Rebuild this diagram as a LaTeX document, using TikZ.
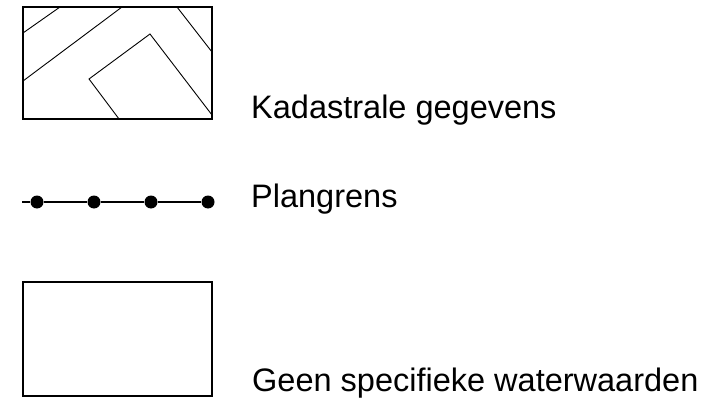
\documentclass[tikz,border=0pt]{standalone}
\usepackage{fontspec}
\setmainfont{Liberation Sans}
\tikzset{legendbox/.style={draw, line width=1.6pt},
         parcel/.style={draw, line width=0.9pt, line join=miter},
         legendtext/.style={anchor=base west, inner sep=0pt,
                            font=\fontsize{32.5}{38}\selectfont},
         dot/.style={circle, fill, inner sep=0pt, minimum size=13pt}}

\begin{document}
\begin{tikzpicture}[x=1pt,y=-1pt]
    \useasboundingbox (0,0) rectangle (725,409);

    % kadastrale gegevens
    \draw[parcel] (60,7) -- (23,33)
                  (122,7) -- (23,81)
                  (177,7) -- (212,52)
                  (119,119) -- (89,79) -- (150,34) -- (212,115);
    \draw[legendbox] (23,7) rectangle (212,119);
    \node[legendtext] (kad) at (251,119) {Kadastrale gegevens};

    % plangrens
    \coordinate (pg0) at (22,202);
    \node[dot] (pg1) at (37,202) {};
    \node[dot] (pg2) at (94,202) {};
    \node[dot] (pg3) at (151,202) {};
    \node[dot] (pg4) at (208,202) {};
    \draw[line width=1.5pt] (pg0) -- (pg1) -- (pg2) -- (pg3) -- (pg4);
    \node[legendtext] (plan) at (251,207) {Plangrens};

    % geen specifieke waterwaarden
    \draw[legendbox] (23,282) rectangle (212,396);
    \node[legendtext] (geen) at (252,391) {Geen specifieke waterwaarden};
\end{tikzpicture}
\end{document}
